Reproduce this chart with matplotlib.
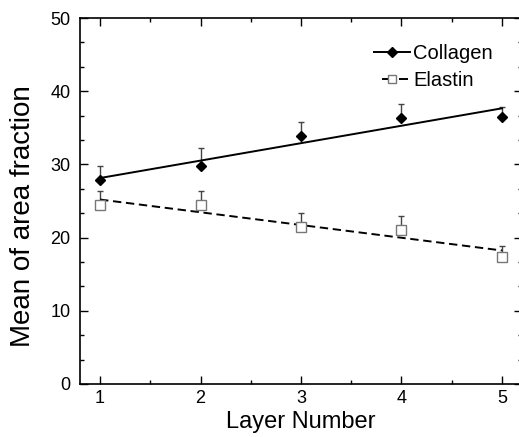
import numpy as np
import matplotlib
matplotlib.use('Agg')
import matplotlib.pyplot as plt
from matplotlib.lines import Line2D
from matplotlib.ticker import MultipleLocator


# Values
layers = [1, 2, 3, 4, 5]
collagen_mean = [27.9, 29.8, 33.9, 36.4, 36.5]
collagen_err = [1.9, 2.4, 1.9, 1.85, 1.3]
elastin_mean = [24.4, 24.4, 21.4, 21.0, 17.4]
elastin_err = [2.0, 2.0, 2.0, 1.95, 1.45]
no_err = [0, 0, 0, 0, 0]

series_names = ['Collagen', 'Elastin']
x_ticks = [1, 2, 3, 4, 5]
y_ticks = [0, 10, 20, 30, 40, 50]

plt.rcParams['font.family'] = ['Liberation Sans', 'DejaVu Sans']


# Draws one series: upper error bars, linear fit line and markers
def plot_series(ax, x, y, err, marker, mfc, mec, ms, ls):
	ax.errorbar(x, y, yerr=[no_err, err], fmt='none', ecolor='#444444',
		elinewidth=1.0, capsize=2.3, capthick=1.0, zorder=2)

	# Least squares line through the points
	coef = np.polyfit(x, y, 1)
	xs = np.array([x[0], x[-1]])
	ax.plot(xs, np.polyval(coef, xs), color='black', lw=1.4, ls=ls, zorder=3)

	ax.plot(x, y, ls='none', marker=marker, mfc=mfc, mec=mec, ms=ms,
		mew=1.0, zorder=4)


def main():
	fig = plt.figure(figsize=(5.19, 4.37), dpi=100)
	ax = fig.add_axes([80/519, 53/437, 442/519, 366/437])

	dash = (0, (4.3, 2.4))
	plot_series(ax, layers, collagen_mean, collagen_err, 'D', 'black', 'black', 5.2, '-')
	plot_series(ax, layers, elastin_mean, elastin_err, 's', 'white', '#777777', 6.5, dash)

	# Axis ranges and ticks
	ax.set_xlim(0.8, 5.2)
	ax.set_ylim(0, 50)
	ax.set_xticks(x_ticks)
	ax.set_yticks(y_ticks)
	ax.xaxis.set_minor_locator(MultipleLocator(0.5))
	ax.yaxis.set_minor_locator(MultipleLocator(10/3))
	ax.tick_params(which='both', direction='in', top=True, right=True,
		labelsize=13, width=1.0)
	ax.tick_params(axis='x', pad=4)
	ax.tick_params(axis='y', pad=7)
	ax.tick_params(which='major', length=6)
	ax.tick_params(which='minor', length=3)
	for sp in ax.spines.values():
		sp.set_linewidth(1.2)

	ax.set_xlabel('Layer Number', fontsize=17, labelpad=3)
	ax.set_ylabel('Mean of area fraction', fontsize=20, va='center')
	ax.yaxis.set_label_coords(-57/442, 0.459)

	# Legend with marker + line handles
	handles = [
		Line2D([], [], color='black', lw=1.4, marker='D', ms=5, mfc='black', mec='black'),
		Line2D([], [], color='black', lw=1.4, ls=(4.63, (4.63, 4.11)), marker='s', ms=5.5,
			mfc='white', mec='#777777'),
	]
	ax.legend(handles, series_names, loc='upper left', bbox_to_anchor=((374-80)/442, (384-44)/366),
		frameon=False, fontsize=14.5, handlelength=1.8, handletextpad=0.15,
		labelspacing=0.4, borderpad=0, borderaxespad=0)

	fig.savefig('out.png', dpi=100)


if __name__ == '__main__':
	main()
